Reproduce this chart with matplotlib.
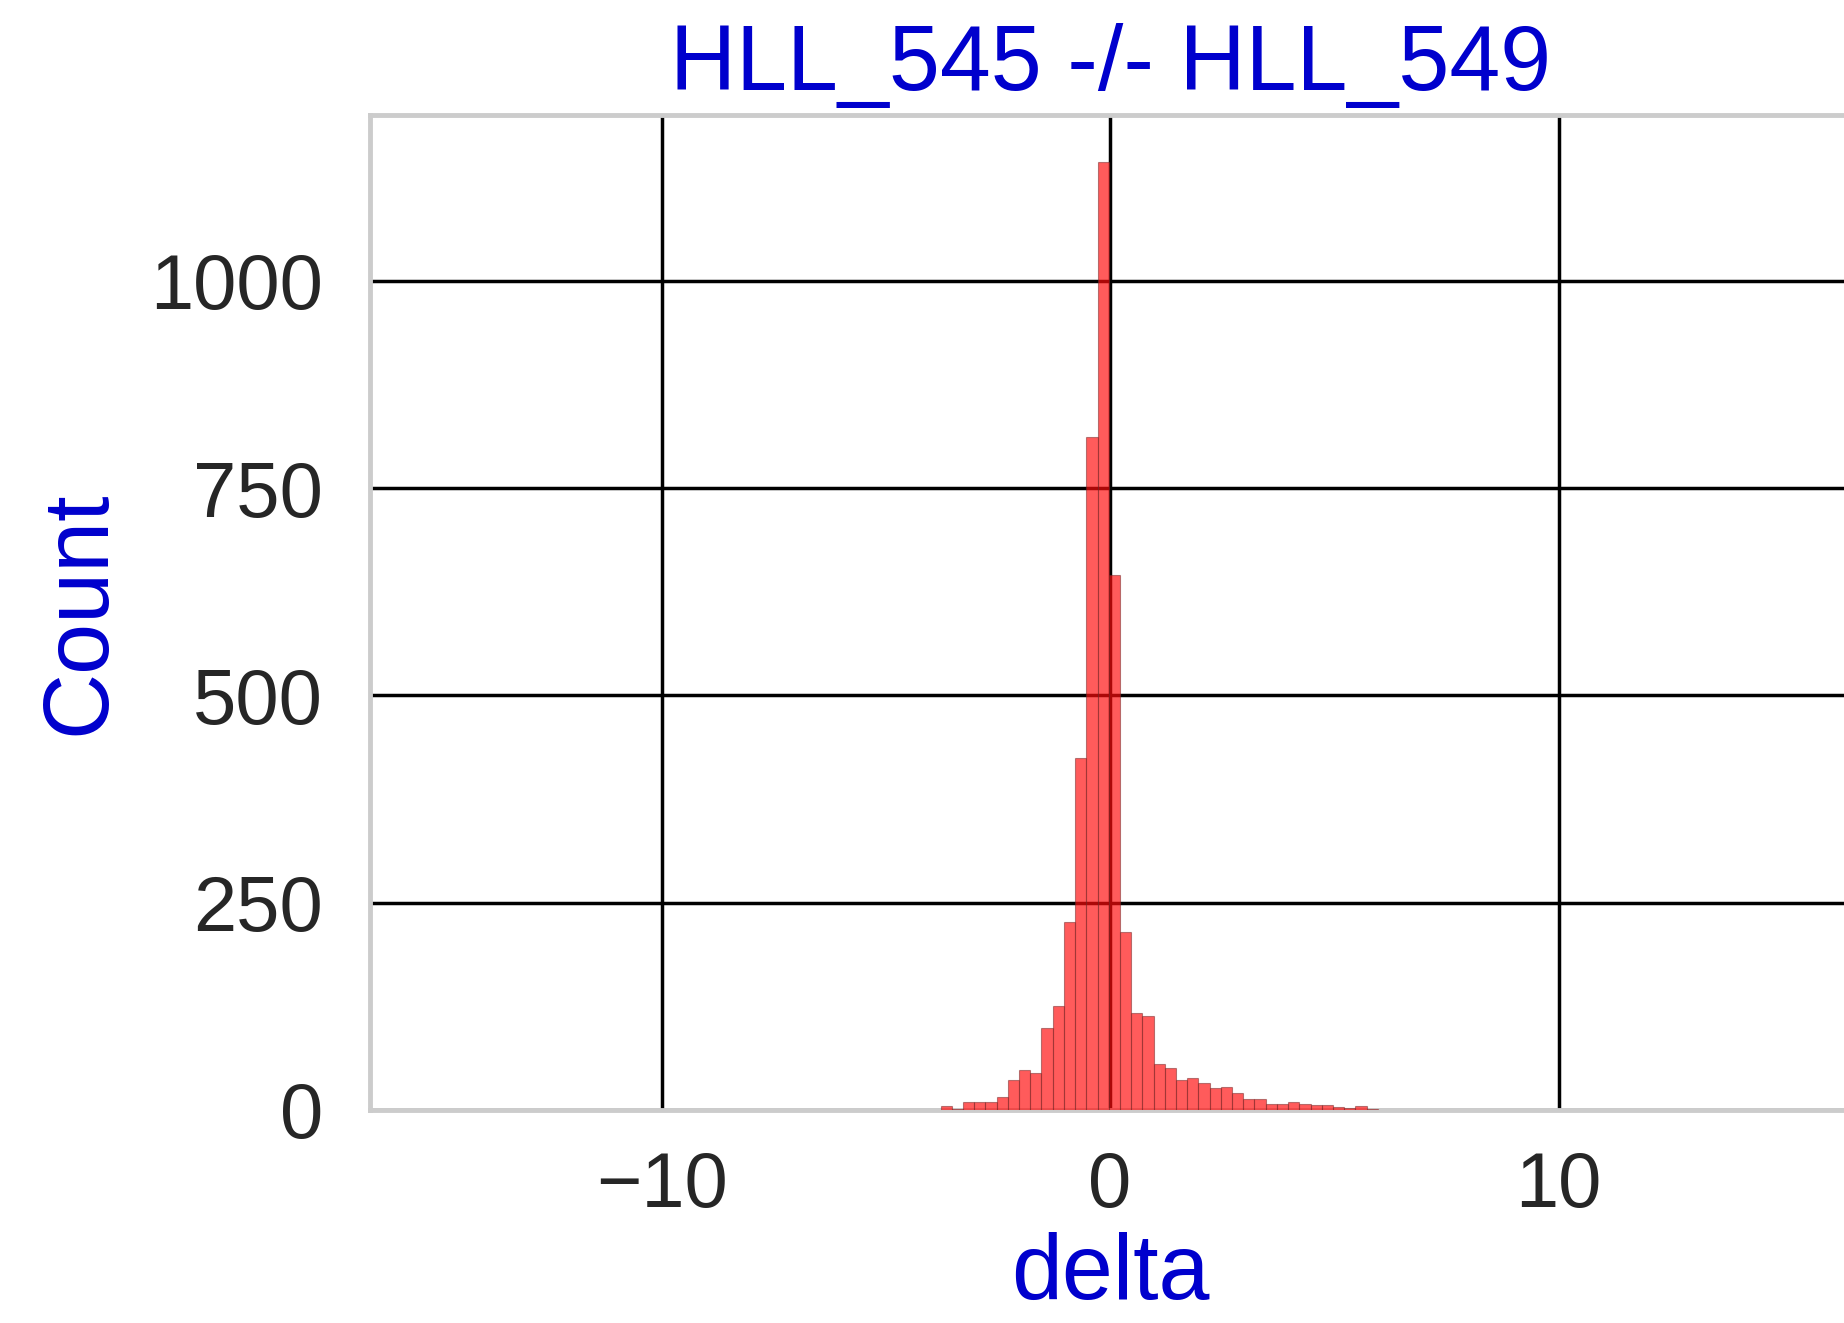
import matplotlib
matplotlib.use("Agg")
import matplotlib.pyplot as plt
import numpy as np

# ---- data ----
bin_start = -3.78
bin_width = 0.25
counts = [5, 1, 10, 10, 10, 16, 36, 48, 45, 99, 125, 227, 425, 812, 1143,
          645, 215, 117, 113, 55, 51, 36, 39, 32, 27, 28, 21, 13, 13, 7, 7,
          10, 7, 6, 6, 4, 2, 5, 1]
x_ticks = [-10, 0, 10]
y_ticks = [0, 250, 500, 750, 1000]
title = "HLL_545 -/- HLL_549"
xlabel = "delta"
ylabel = "Count"

plt.rcParams['font.family'] = ['Liberation Sans', 'DejaVu Sans']

fig = plt.figure(figsize=(18.44, 13.23), dpi=100)
ax = fig.add_axes([0.2007, 0.161, 0.8026, 0.752])

edges = bin_start + bin_width * np.arange(len(counts))
ax.bar(edges, counts, width=bin_width, align='edge',
       facecolor=(1.0, 0.05, 0.05, 0.68), edgecolor=(0.45, 0.15, 0.15, 0.5),
       linewidth=0.8, zorder=3)

ax.set_xlim(-16.5, 16.5)
ax.set_ylim(0, 1200)
ax.set_xticks(x_ticks)
ax.set_yticks(y_ticks)
ax.set_xticklabels([f"{t}".replace('-', '\u2212') for t in x_ticks])

ax.grid(True, color='black', linewidth=2.5, zorder=1)
ax.set_axisbelow(True)
for s in ax.spines.values():
    s.set_color('#cccccc')
    s.set_linewidth(3.5)

ax.tick_params(axis='both', length=0, labelsize=56, colors='#262626')
ax.tick_params(axis='x', pad=29)
ax.tick_params(axis='y', pad=34)

ax.set_title(title, fontsize=66, color='mediumblue', pad=18)
ax.set_xlabel(xlabel, fontsize=66, color='mediumblue', labelpad=6)
ax.set_ylabel(ylabel, fontsize=66, color='mediumblue', labelpad=19)

fig.savefig("out.png", dpi=100)
